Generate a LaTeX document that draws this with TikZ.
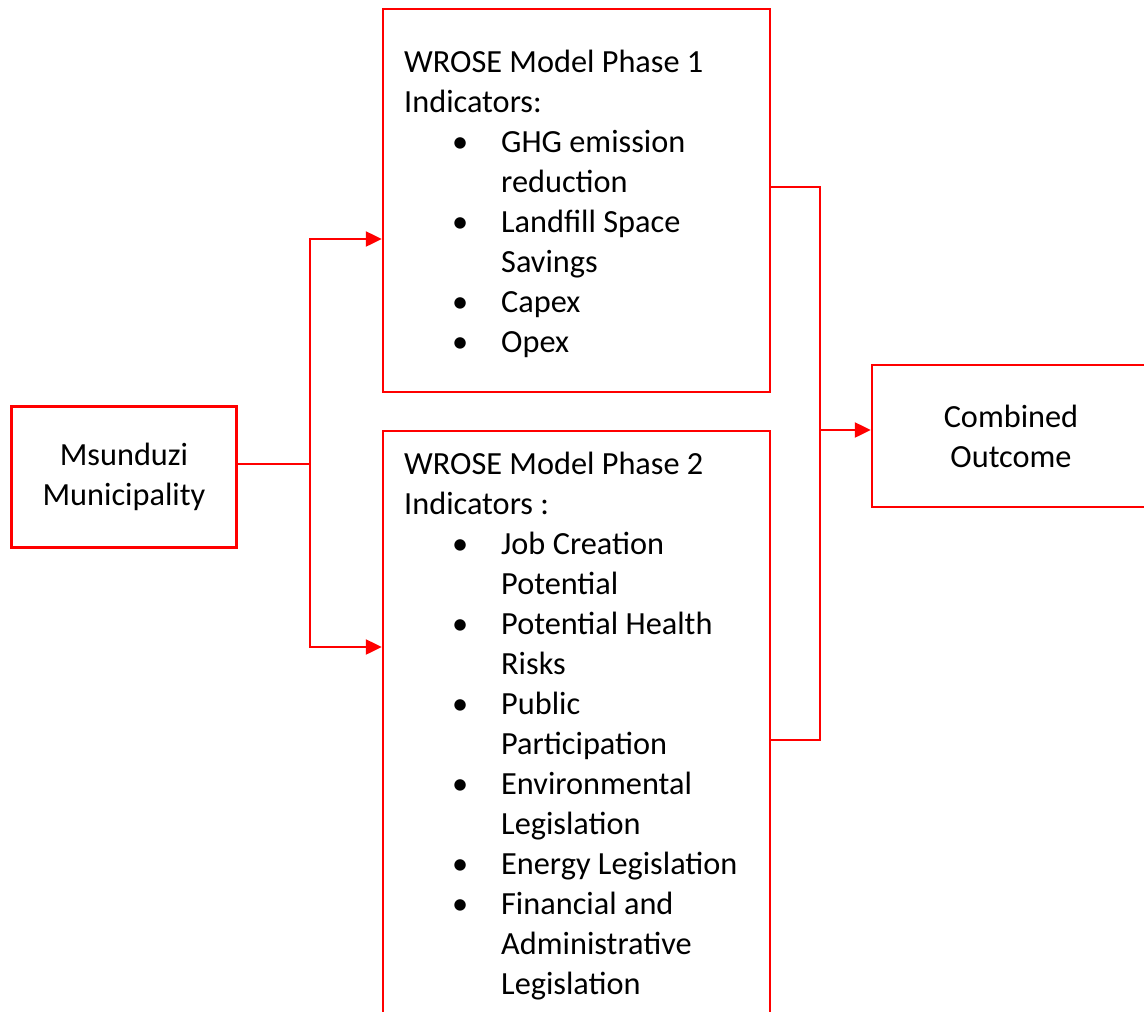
\documentclass[tikz,border=0pt]{standalone}
\usepackage{fontspec}
\setmainfont{Carlito}
\usetikzlibrary{arrows.meta}

\definecolor{boxred}{RGB}{255,0,0}

% list lines: bullet, then the item text; \ind for wrapped lines
\newcommand{\itm}{\hspace*{48pt}\makebox[49pt][l]{\textbullet}}
\newcommand{\ind}{\hspace*{97pt}}

\tikzset{
  redbox/.style={draw=boxred, line width=2.5pt, inner sep=0pt, align=center},
  bodytext/.style={inner sep=0pt, align=left, anchor=base west},
  link/.style={draw=boxred, line width=2.5pt},
  arr/.style={link, -{Triangle[length=16pt,width=15pt]}}
}

\begin{document}
\begin{tikzpicture}[x=1pt, y=-1pt, font=\fontsize{32.3}{40}\selectfont]
  \useasboundingbox (0,0) rectangle (1144,1012);

  \node[redbox, minimum width=225pt, minimum height=141pt] (msun) at (124,477) {Msunduzi\\Municipality};
  \node[redbox, minimum width=387pt, minimum height=383pt] (ph1) at (576.5,200.5) {};
  \node[redbox, minimum width=387pt, minimum height=640pt] (ph2) at (576.5,751) {};
  \node[redbox, minimum width=278pt, minimum height=142pt] (comb) at (1011,436) {Combined\\Outcome};

  % anchored on the baseline of the last line
  \node[bodytext] (ph1txt) at (404,352.5) {WROSE Model Phase 1\\Indicators:\\
    \itm GHG emission\\\ind reduction\\
    \itm Landfill Space\\\ind Savings\\
    \itm Capex\\
    \itm Opex};
  \node[bodytext] (ph2txt) at (404,994) {WROSE Model Phase 2\\Indicators :\\
    \itm Job Creation\\\ind Potential\\
    \itm Potential Health\\\ind Risks\\
    \itm Public\\\ind Participation\\
    \itm Environmental\\\ind Legislation\\
    \itm Energy Legislation\\
    \itm Financial and\\\ind Administrative\\\ind Legislation};

  % fork out of the municipality
  \coordinate (fork) at (310,464);
  \draw[link] (msun.east |- fork) -- (fork);
  \draw[arr] (fork) |- (ph1.west |- 0,239);
  \draw[arr] (fork) |- (ph2.west |- 0,647);

  % both phases join into the outcome
  \coordinate (join) at (820,430);
  \draw[link] (ph1.east |- 0,187) -| (join);
  \draw[link] (ph2.east |- 0,740) -| (join);
  \draw[arr] (join) -- (comb.west |- join);
\end{tikzpicture}
\end{document}
